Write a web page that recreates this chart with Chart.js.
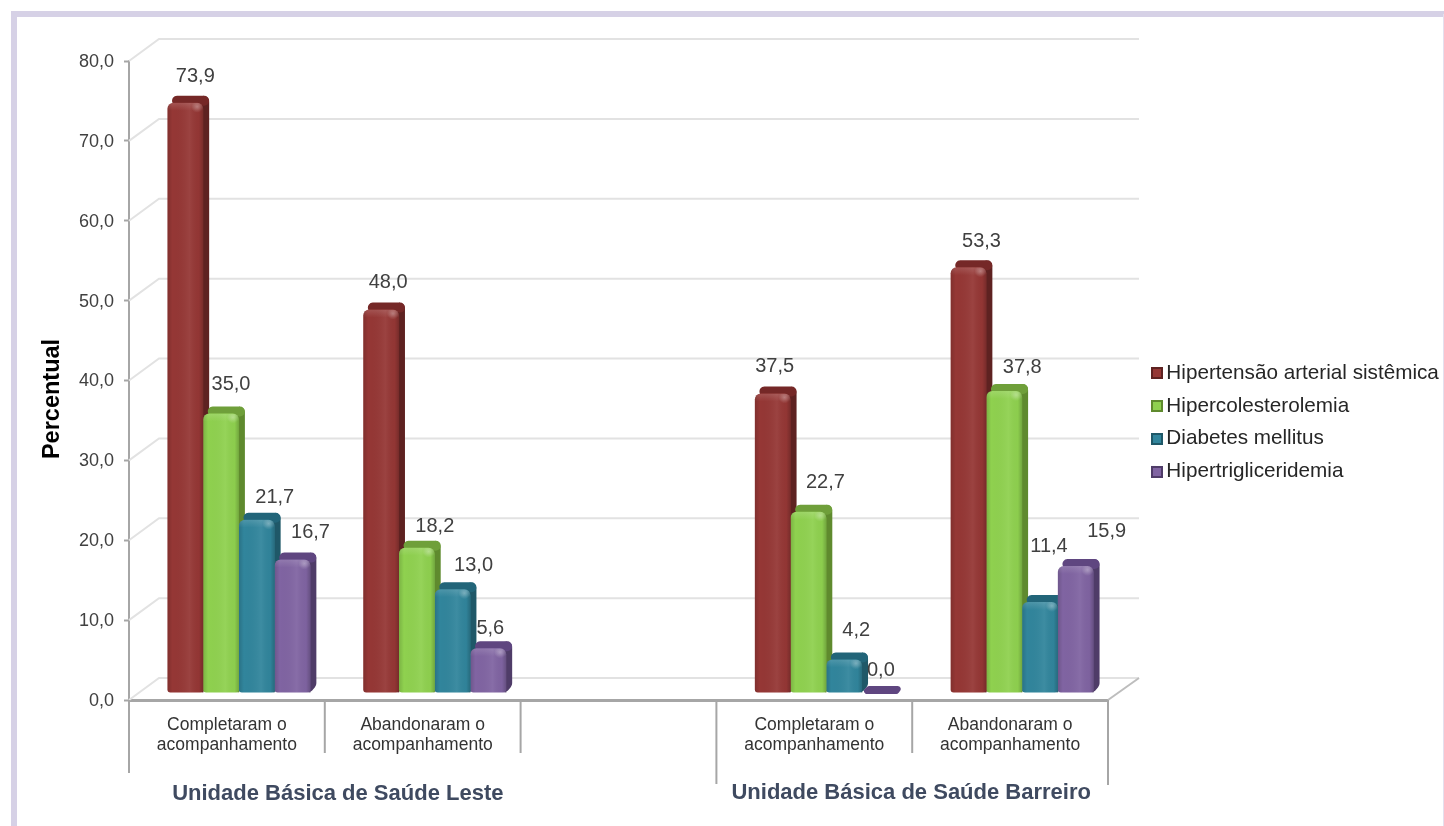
<!DOCTYPE html>
<html lang="pt">
<head>
<meta charset="utf-8">
<style>html,body{margin:0;padding:0;background:#fff}canvas{display:block}</style>
<script src="https://cdn.jsdelivr.net/npm/chart.js@4/dist/chart.umd.min.js"></script>
</head>
<body>
<canvas id="grafico" width="1444" height="826"></canvas>
<script>
// Categories: the middle slot stays empty to separate the two health units.
const categorias = [
  ['Completaram o', 'acompanhamento'],
  ['Abandonaram o', 'acompanhamento'],
  '',
  ['Completaram o', 'acompanhamento'],
  ['Abandonaram o', 'acompanhamento']
];
const unidades = ['Unidade Básica de Saúde Leste', 'Unidade Básica de Saúde Barreiro'];
const nomesSeries = ['Hipertensão arterial sistêmica', 'Hipercolesterolemia', 'Diabetes mellitus', 'Hipertrigliceridemia'];

const hipertensao = [73.9, 48.0, null, 37.5, 53.3];
const hipercolesterolemia = [35.0, 18.2, null, 22.7, 37.8];
const diabetes = [21.7, 13.0, null, 4.2, 11.4];
const hipertrigliceridemia = [16.7, 5.6, null, 0.0, 15.9];

const valoresY = { min: 0, max: 80, passo: 10 };

// Colour sets per series: front, side face, top face.
const frente = ['#953735', '#8FD14F', '#31859C', '#8064A2'];
const lateral = ['#5E2221', '#5F8A2E', '#1F5868', '#4F3C68'];
const topo = ['#752827', '#6F9F3A', '#226579', '#5F4680'];

// Label placement relative to the top centre of each bar (series, then category).
const ajusteRotulos = [
  [[10, -26], [7, -27], null, [2, -27], [13, -26]],
  [[10, -29], [18, -21], null, [17, -29], [18, -24]],
  [[18, -22], [21, -24], null, [12, -29], [9, -55]],
  [[18, -27], [2, -20], null, [1, -23], [31, -35]]
];

const CINZA = '#a6a6a6';
const PROF_X = 6, PROF_Y = 7;         // bar depth
const PAREDE_X = 30, PAREDE_Y = 22;   // back wall offset
const DESLOC_X = 12, DESLOC_Y = -7;   // bars stand in the middle of the floor

const fmt = v => v.toFixed(1).replace('.', ',');

function poligonoArredondado(ctx, pts, r) {
  const n = pts.length;
  const ini = [(pts[0][0] + pts[1][0]) / 2, (pts[0][1] + pts[1][1]) / 2];
  ctx.beginPath();
  ctx.moveTo(ini[0], ini[1]);
  for (let i = 1; i <= n; i++) {
    const a = pts[i % n], b = pts[(i + 1) % n];
    ctx.arcTo(a[0], a[1], b[0], b[1], r);
  }
  ctx.closePath();
}

const linha = (ctx, pts, cor, larg) => {
  ctx.strokeStyle = cor;
  ctx.lineWidth = larg;
  ctx.beginPath();
  pts.forEach((p, i) => i ? ctx.lineTo(p[0], p[1]) : ctx.moveTo(p[0], p[1]));
  ctx.stroke();
};

const cena3d = {
  id: 'cena3d',
  beforeLayout(chart) {
    // The legend keeps a fixed column to the right of the plot.
    const lg = chart.legend;
    if (lg && !lg._colunaFixa) {
      const fit = lg.fit;
      lg.fit = function () { fit.call(this); this.width = 336; };
      lg._colunaFixa = true;
    }
  },
  afterLayout(chart) {
    chart.legend.left = 1139;
    chart.legend.right = 1444;
    chart.legend.top = 351;
  },
  beforeDraw(chart) {
    const { ctx } = chart;
    ctx.save();
    // page frame
    ctx.strokeStyle = '#d6d1e6';
    ctx.lineWidth = 6;
    ctx.beginPath();
    ctx.moveTo(14, 826);
    ctx.lineTo(14, 14);
    ctx.lineTo(1444, 14);
    ctx.stroke();
    linha(ctx, [[1443.5, 14], [1443.5, 826]], '#e4e0ee', 1);
    ctx.restore();
  },
  beforeDatasetsDraw(chart) {
    const { ctx, scales: { x, y }, chartArea: a } = chart;
    ctx.save();
    // back wall and floor lines, one per axis tick
    y.ticks.forEach((t, i) => {
      const py = y.getPixelForTick(i);
      linha(ctx, [[a.left, py], [a.left + PAREDE_X, py - PAREDE_Y], [a.right + PAREDE_X + 1, py - PAREDE_Y]], '#e2e2e2', 2);
    });
    linha(ctx, [[a.right, a.bottom], [a.right + PAREDE_X + 1, a.bottom - PAREDE_Y]], '#bdbdbd', 2);

    // category separators below the floor
    const passo = (a.right - a.left) / categorias.length;
    const baixo = a.bottom;
    [[0, 773], [1, 753], [2, 753], [3, 784], [4, 753], [5, 785]].forEach(([k, fim]) => {
      const px = a.left + k * passo;
      linha(ctx, [[px, baixo], [px, fim]], CINZA, 2);
    });

    // value axis title
    ctx.save();
    ctx.translate(53, 399);
    ctx.rotate(-Math.PI / 2);
    ctx.font = 'bold 23.5px "Liberation Sans"';
    ctx.fillStyle = '#000000';
    ctx.textAlign = 'center';
    ctx.textBaseline = 'middle';
    ctx.fillText('Percentual', 0, 0);
    ctx.restore();

    // unit names
    ctx.font = 'bold 22px "Liberation Sans"';
    ctx.fillStyle = '#3f4a60';
    ctx.textAlign = 'center';
    ctx.textBaseline = 'middle';
    ctx.fillText(unidades[0], x.getPixelForValue(0.5) + 13, 794);
    ctx.fillText(unidades[1], x.getPixelForValue(3.5) - 1, 793);
    ctx.restore();

    ctx.save();
    ctx.translate(DESLOC_X, DESLOC_Y);
    // depth faces go first, left to right, so every front covers its neighbour's side
    chart.data.datasets.forEach((ds, s) => {
      chart.getDatasetMeta(s).data.forEach((el, c) => {
        if (ds.data[c] === null) return;
        const esq = el.x - el.width / 2, dir = el.x + el.width / 2;
        const t = el.y, b = el.base;
        if (b - t < 3) {
          // a zero value leaves only a flat plate on the floor
          ctx.fillStyle = topo[s];
          poligonoArredondado(ctx, [[esq - 3, t + 1], [esq + PROF_X, t - PROF_Y], [dir + PROF_X, t - PROF_Y], [dir, t + 1]], 3);
          ctx.fill();
          return;
        }
        ctx.fillStyle = lateral[s];
        poligonoArredondado(ctx, [[dir - 5, t], [dir - 5, t - PROF_Y], [dir + PROF_X, t - PROF_Y], [dir + PROF_X, b - PROF_Y], [dir, b], [dir - 5, b]], 6);
        ctx.fill();
        ctx.fillStyle = topo[s];
        poligonoArredondado(ctx, [[esq, t + 3], [esq + PROF_X + 1, t - PROF_Y], [dir + PROF_X, t - PROF_Y], [dir + PROF_X, t + 3], [dir, t + 3]], 5);
        ctx.fill();
      });
    });
  },
  afterDatasetDraw(chart, { index }) {
    const { ctx } = chart;
    const ds = chart.data.datasets[index];
    chart.getDatasetMeta(index).data.forEach((el, c) => {
      if (ds.data[c] === null) return;
      const esq = el.x - el.width / 2, dir = el.x + el.width / 2;
      const t = el.y, b = el.base;
      if (b - t < 3) return;
      ctx.save();
      ctx.beginPath();
      ctx.roundRect(esq, t, el.width, b - t, [6, 6, 3, 3]);
      ctx.clip();
      // cylinder-like shading across the width
      const g = ctx.createLinearGradient(esq, 0, dir, 0);
      g.addColorStop(0, 'rgba(0,0,0,0.14)');
      g.addColorStop(0.14, 'rgba(0,0,0,0)');
      g.addColorStop(0.62, 'rgba(255,255,255,0.06)');
      g.addColorStop(0.88, 'rgba(0,0,0,0.02)');
      g.addColorStop(1, 'rgba(0,0,0,0.2)');
      ctx.fillStyle = g;
      ctx.fillRect(esq, t, el.width, b - t);
      // bevel catching the light along the top edge
      const v = ctx.createLinearGradient(0, t, 0, t + 8);
      v.addColorStop(0, 'rgba(255,255,255,0.14)');
      v.addColorStop(1, 'rgba(255,255,255,0)');
      ctx.fillStyle = v;
      ctx.fillRect(esq, t, el.width, 8);
      // glint near the top right corner
      const r = ctx.createRadialGradient(dir - 6, t + 4, 0, dir - 6, t + 4, 6);
      r.addColorStop(0, 'rgba(255,255,255,0.3)');
      r.addColorStop(1, 'rgba(255,255,255,0)');
      ctx.fillStyle = r;
      ctx.fillRect(dir - 12, t, 12, 10);
      ctx.restore();
    });
  },
  afterDatasetsDraw(chart) {
    const { ctx } = chart;
    ctx.restore();
    // value labels
    ctx.save();
    ctx.font = '20px "Liberation Sans"';
    ctx.fillStyle = '#404040';
    ctx.textAlign = 'center';
    ctx.textBaseline = 'middle';
    chart.data.datasets.forEach((ds, s) => {
      chart.getDatasetMeta(s).data.forEach((el, c) => {
        const v = ds.data[c];
        if (v === null) return;
        const [dx, dy] = ajusteRotulos[s][c];
        ctx.fillText(fmt(v), el.x + DESLOC_X + dx, el.y + DESLOC_Y + dy);
      });
    });
    ctx.restore();
  },
  afterDraw(chart) {
    // bevelled legend markers over the narrow boxes of the legend
    const { ctx } = chart;
    ctx.save();
    nomesSeries.forEach((n, i) => {
      const cy = 373 + i * 33;
      ctx.fillStyle = lateral[i];
      ctx.fillRect(1151, cy - 6, 12, 12);
      ctx.fillStyle = frente[i];
      ctx.fillRect(1153, cy - 4, 8, 8);
    });
    ctx.restore();
  }
};

const series = [hipertensao, hipercolesterolemia, diabetes, hipertrigliceridemia];

new Chart(document.getElementById('grafico'), {
  type: 'bar',
  data: {
    labels: categorias,
    datasets: series.map((dados, i) => ({
      label: nomesSeries[i],
      data: dados,
      backgroundColor: frente[i],
      borderWidth: 0,
      borderSkipped: false,
      borderRadius: { topLeft: 6, topRight: 6, bottomLeft: 3, bottomRight: 3 },
      categoryPercentage: 0.73,
      barPercentage: 1,
      clip: false
    }))
  },
  plugins: [cena3d],
  options: {
    responsive: false,
    animation: false,
    layout: { padding: { top: 61, left: 0, right: 0, bottom: 0 } },
    plugins: {
      tooltip: { enabled: false },
      title: { display: false },
      legend: {
        display: true,
        position: 'right',
        align: 'start',
        labels: {
          boxWidth: 5,
          boxHeight: 11,
          padding: 12,
          color: '#262626',
          font: { family: '"Liberation Sans"', size: 20.7 },
          generateLabels: chart => chart.data.datasets.map((ds, i) => ({
            text: ds.label,
            fillStyle: frente[i],
            strokeStyle: lateral[i],
            lineWidth: 0,
            datasetIndex: i,
            fontColor: '#262626'
          }))
        }
      }
    },
    scales: {
      x: {
        offset: true,
        grid: { display: false },
        border: { display: true, color: CINZA, width: 3 },
        afterFit(s) { s.height = 126; },
        ticks: {
          autoSkip: false,
          maxRotation: 0,
          minRotation: 0,
          padding: 7,
          color: '#333333',
          font: { family: '"Liberation Sans"', size: 17.5, lineHeight: 1.14 }
        }
      },
      y: {
        min: valoresY.min,
        max: valoresY.max,
        afterFit(s) { s.width = 129; },
        grid: { drawOnChartArea: false, drawTicks: true, tickLength: 5, tickColor: CINZA, tickWidth: 2 },
        border: { display: true, color: CINZA, width: 2 },
        ticks: {
          stepSize: valoresY.passo,
          padding: 10,
          labelOffset: 1,
          color: '#404040',
          font: { family: '"Liberation Sans"', size: 18 },
          callback: v => fmt(v)
        }
      }
    }
  }
});
</script>
</body>
</html>
